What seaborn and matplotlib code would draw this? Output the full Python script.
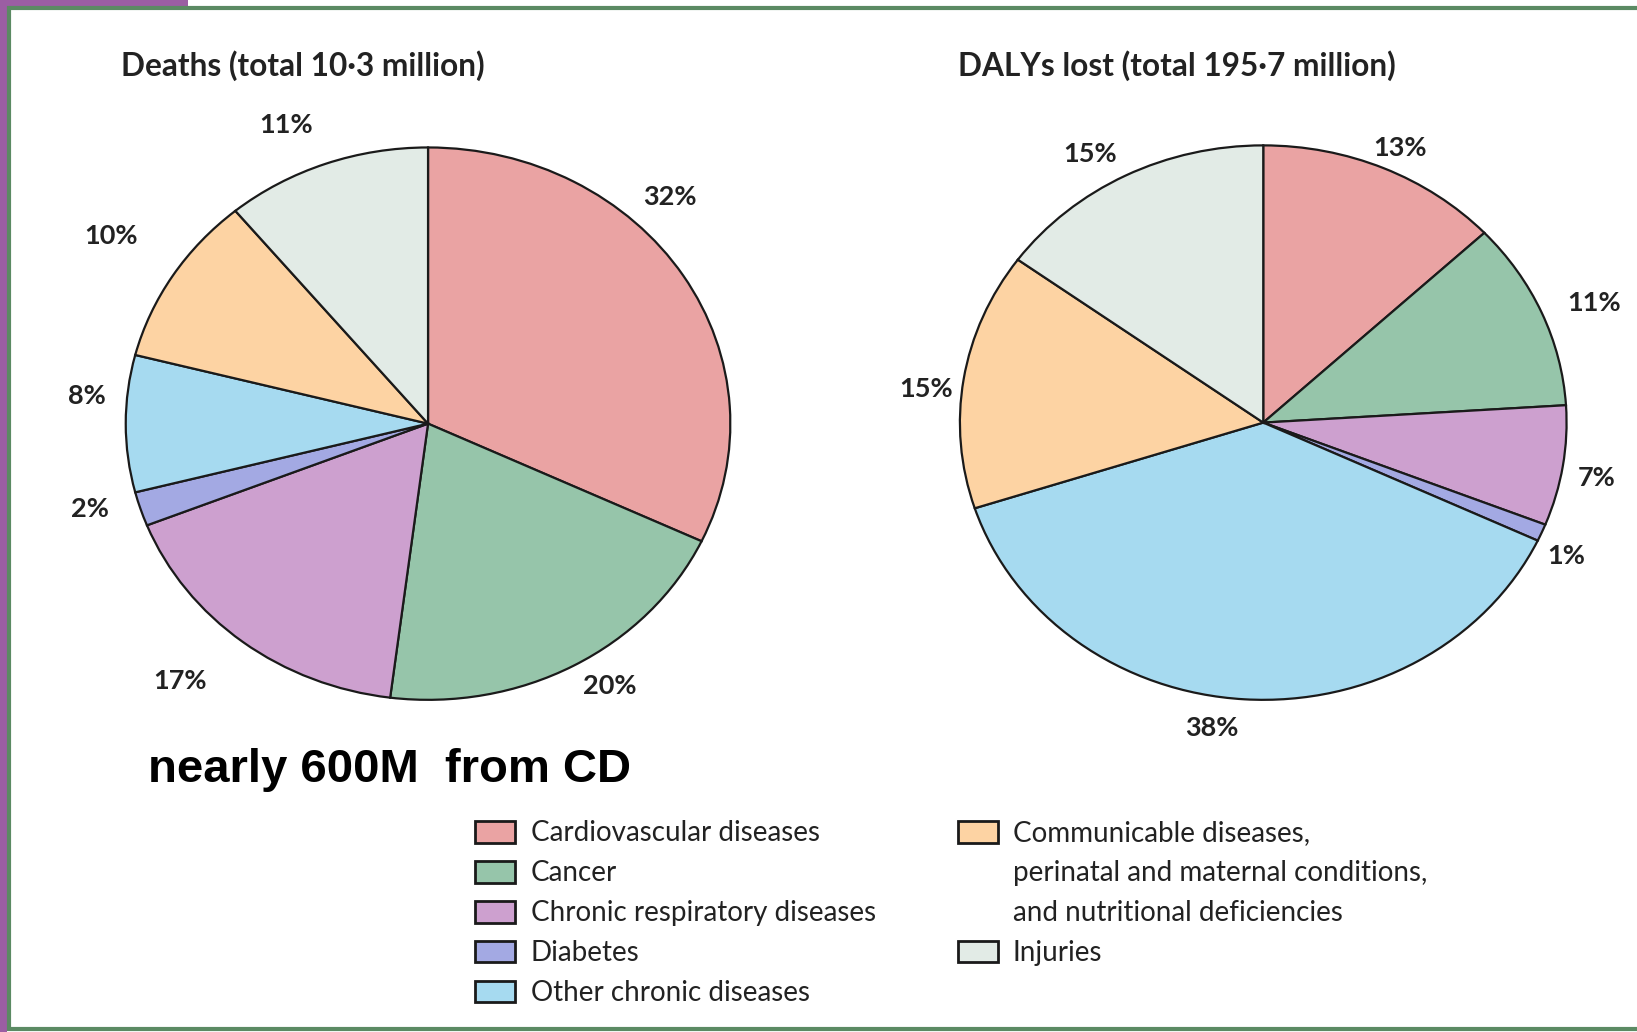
import matplotlib
matplotlib.use("Agg")
import matplotlib.pyplot as plt
import matplotlib.patches as mpatches
import seaborn as sns

sns.set_theme(style="white")
plt.rcParams['font.family'] = ['Lato', 'DejaVu Sans']

# ---- data ----
categories = ["Cardiovascular diseases", "Cancer", "Chronic respiratory diseases",
              "Diabetes", "Other chronic diseases",
              "Communicable diseases,", "Injuries"]
deaths_pct = [32, 20, 17, 2, 8, 10, 11]
dalys_pct = [13, 11, 7, 1, 38, 15, 15]
deaths_title = "Deaths (total 10·3 million)"
dalys_title = "DALYs lost (total 195·7 million)"
note_text = "nearly 600M  from CD"
communicable_extra = ["perinatal and maternal conditions,", "and nutritional deficiencies"]

colors = ["#eaa3a3", "#96c5aa", "#cda0cf", "#a3a9e3", "#a6daf0", "#fdd3a3", "#e2ebe6"]

# label positions (style) in pie-axes units
deaths_label_pos = [(0.80, 0.82), (0.60, -0.95), (-0.82, -0.93), (-1.12, -0.31),
                    (-1.13, 0.10), (-1.05, 0.68), (-0.47, 1.08)]
dalys_label_pos = [(0.45, 0.99), (1.09, 0.43), (1.10, -0.20), (1.00, -0.48),
                   (-0.17, -1.10), (-1.11, 0.12), (-0.57, 0.97)]

W, H = 1637, 1032
fig = plt.figure(figsize=(W / 100, H / 100), dpi=100)
fig.patch.set_facecolor("white")

def fx(x):  # shrunk-reference px -> fig fraction
    return x / 1568

def fy(y):
    return 1 - y / 989

# frame decorations (behind everything)
fig.add_artist(mpatches.Rectangle((0, 0), fx(7), 1, transform=fig.transFigure,
                                  facecolor="#9b5ea3", edgecolor="none", zorder=-3))
fig.add_artist(mpatches.Rectangle((0, fy(6)), fx(180), 1 - fy(6), transform=fig.transFigure,
                                  facecolor="#9b5ea3", edgecolor="none", zorder=-3))
fig.add_artist(mpatches.Rectangle((fx(9), fy(986)), 1.0, fy(8) - fy(986),
                                  transform=fig.transFigure, facecolor="white",
                                  edgecolor="#5b8a63", linewidth=3, zorder=-2))


def draw_pie(rect, values, label_pos, title, title_x):
    ax = fig.add_axes(rect)
    ax.patch.set_alpha(0)
    ax.pie(values, colors=colors, startangle=90, counterclock=False,
           wedgeprops=dict(edgecolor="#1a1a1a", linewidth=1.6))
    ax.set_aspect("auto")
    ax.set_xlim(-1.005, 1.005)
    ax.set_ylim(-1.005, 1.005)
    ax.axis("off")
    for v, (x, y) in zip(values, label_pos):
        ax.text(x, y, f"{v}%", ha="center", va="center", fontsize=19.5,
                color="#222222", fontweight="bold")
    fig.text(title_x, fy(63), title, ha="left", va="center", fontsize=22.8,
             color="#222222", fontweight="bold")
    return ax

draw_pie([fx(119), fy(672), fx(582), fy(140) - fy(672)], deaths_pct,
         deaths_label_pos, deaths_title, fx(116))
draw_pie([fx(918), fy(672), fx(584), fy(138) - fy(672)], dalys_pct,
         dalys_label_pos, dalys_title, fx(918))

fig.text(fx(142), fy(738), note_text, ha="left", va="center", fontsize=34,
         fontweight="bold", color="black", family="Liberation Sans")

# legend
handles = [mpatches.Patch(facecolor=c, edgecolor="#1a1a1a", linewidth=2) for c in colors]
blank = mpatches.Patch(facecolor="none", edgecolor="none")
leg_handles = handles[:5] + [handles[5], blank, blank, handles[6], blank]
leg_labels = categories[:5] + [categories[5]] + communicable_extra + [categories[6], ""]
fig.legend(leg_handles, leg_labels, ncol=2, loc="upper left",
           bbox_to_anchor=(fx(442), fy(773)), frameon=False, fontsize=20,
           handlelength=1.44, handleheight=0.83, handletextpad=0.55,
           labelspacing=0.50, columnspacing=2.95, borderpad=0,
           labelcolor="#222222")

fig.savefig("out.png", dpi=100)
